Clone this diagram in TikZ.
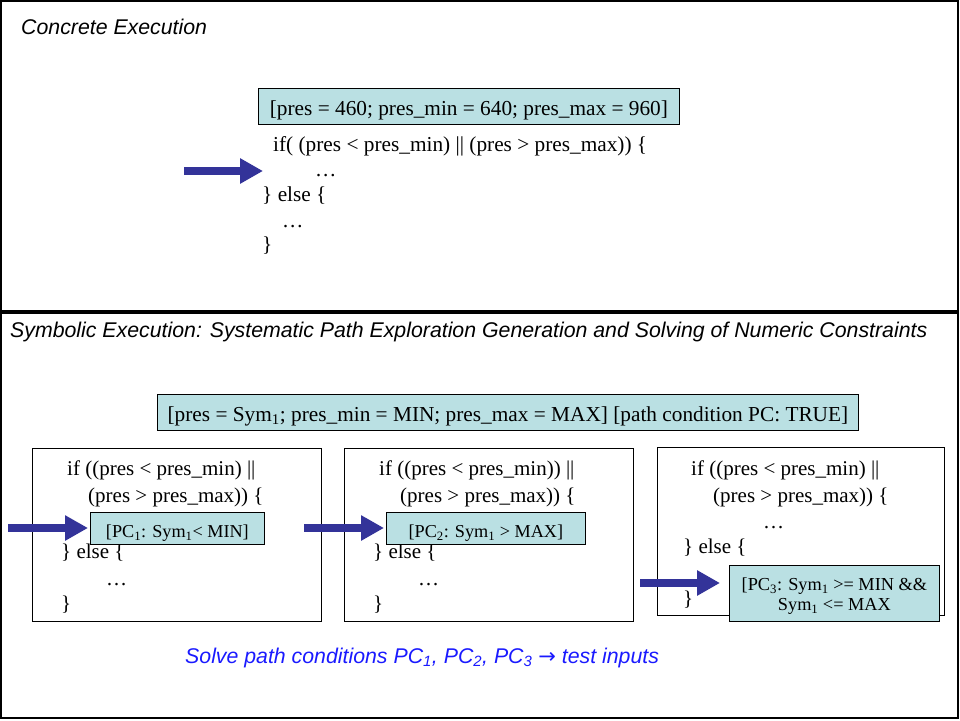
\documentclass[tikz,border=0pt]{standalone}
\usepackage{fontspec}
\setmainfont{Liberation Serif}
\setsansfont{Liberation Sans}
\newfontfamily\arrowfont{DejaVu Sans}
\usetikzlibrary{arrows.meta}
\definecolor{tealfill}{RGB}{186,224,227}
\definecolor{arrowblue}{RGB}{51,51,153}
\definecolor{solveblue}{RGB}{26,26,255}
\begin{document}
\begin{tikzpicture}[x=1pt,y=-1pt,
  panel/.style={draw=black, line width=1.6pt},
  title/.style={anchor=base west, inner sep=0pt, font=\sffamily\itshape\fontsize{21.3}{25}\selectfont},
  codebig/.style={anchor=base west, inner sep=0pt, font=\fontsize{21.3}{25}\selectfont},
  code/.style={anchor=base west, inner sep=0pt, font=\fontsize{21}{25}\selectfont},
  codebox/.style={draw, line width=0.8pt, anchor=north west, inner sep=0pt},
  tealbig/.style={draw, fill=tealfill, line width=0.8pt, anchor=north west, inner xsep=0pt, inner ysep=0pt,
     text height=27pt, text depth=9pt, font=\fontsize{21.3}{25}\selectfont},
  tealpc/.style={draw, fill=tealfill, line width=0.8pt, anchor=north west, inner xsep=0pt, inner ysep=0pt,
     text height=25pt, text depth=7pt, font=\fontsize{18.2}{20}\selectfont},
  bigarrow/.style={draw=arrowblue, line width=8pt, -{Triangle[length=23pt,width=24pt]}, arrowblue},
]
\useasboundingbox (0,0) rectangle (960,720);

% panels
\draw[panel] (1,1) rectangle (958,311);
\draw[panel] (1,313) rectangle (958,718);

% ---------- Concrete execution ----------
\node[title] (ctitle) at (21,34) {Concrete Execution};
\node[tealbig, minimum width=421pt] (cinit) at (258,88) {[pres = 460; pres\_min = 640; pres\_max = 960]};
\node[codebig] (c1) at (273,151) {if( (pres < pres\_min) || (pres > pres\_max)) \{};
\node[codebig] (c2) at (315,176) {…};
\node[codebig] (c3) at (262,201) {\} else \{};
\node[codebig] (c4) at (282,227) {…};
\node[codebig] (c5) at (262,251) {\}};
\coordinate (ca0) at (184,171);
\coordinate (ca1) at (263,171);
\draw[bigarrow] (ca0) -- (ca1);

% ---------- Symbolic execution ----------
\node[title] (stitle) at (10,337) {Symbolic Execution: Systematic Path Exploration Generation and Solving of Numeric Constraints};
\node[tealbig, minimum width=701pt] (sinit) at (157,394) {[pres = Sym\textsubscript{1}; pres\_min = MIN; pres\_max = MAX] [path condition PC: TRUE]};

% box 1
\node[codebox, minimum width=289pt, minimum height=173pt] (b1) at (32,448) {};
\node[code] (b1l1) at (67,475) {if ((pres < pres\_min) ||};
\node[code] (b1l2) at (88,502) {(pres > pres\_max)) \{};
\node[code] (b1l3) at (61,558) {\} else \{};
\node[code] (b1l4) at (106,585) {…};
\node[code] (b1l5) at (61,610) {\}};
\node[tealpc, minimum width=174pt] (pc1) at (90,512) {[PC\textsubscript{1}: Sym\textsubscript{1}< MIN]};

% box 2
\node[codebox, minimum width=289pt, minimum height=173pt] (b2) at (344,448) {};
\node[code] (b2l1) at (379,475) {if ((pres < pres\_min)) ||};
\node[code] (b2l2) at (400,502) {(pres > pres\_max)) \{};
\node[code] (b2l3) at (373,558) {\} else \{};
\node[code] (b2l4) at (418,585) {…};
\node[code] (b2l5) at (373,610) {\}};
\node[tealpc, minimum width=199pt] (pc2) at (386,512) {[PC\textsubscript{2}: Sym\textsubscript{1} > MAX]};

% box 3
\node[codebox, minimum width=287pt, minimum height=168pt] (b3) at (657,447) {};
\node[code] (b3l1) at (691,475) {if ((pres < pres\_min) ||};
\node[code] (b3l2) at (713,502) {(pres > pres\_max)) \{};
\node[code] (b3l3) at (763,528) {…};
\node[code] (b3l4) at (683,553) {\} else \{};
\node[code] (b3l5) at (683,605) {\}};
\node[draw, fill=tealfill, line width=0.8pt, anchor=north west, inner sep=0pt,
      minimum width=210pt, align=center, text height=45pt, text depth=11pt,
      font=\fontsize{18.3}{20}\selectfont] (pc3) at (729,565)
      {[PC\textsubscript{3}: Sym\textsubscript{1} >= MIN \&\&\\Sym\textsubscript{1} <= MAX};

% arrows
\coordinate (sa1) at (8,528);
\coordinate (sa2) at (304,528);
\coordinate (sa3) at (640,583);
\draw[bigarrow, shorten >=2pt] (sa1) -- (pc1.west |- sa1);
\draw[bigarrow, shorten >=2pt] (sa2) -- (pc2.west |- sa2);
\draw[bigarrow, shorten >=9pt] (sa3) -- (pc3.west |- sa3);

% solve text
\node[title, text=solveblue] (solve) at (185,663)
  {Solve path conditions PC\textsubscript{1}, PC\textsubscript{2}, PC\textsubscript{3} {\upshape\arrowfont\fontsize{21}{24}\selectfont →} test inputs};
\end{tikzpicture}
\end{document}
